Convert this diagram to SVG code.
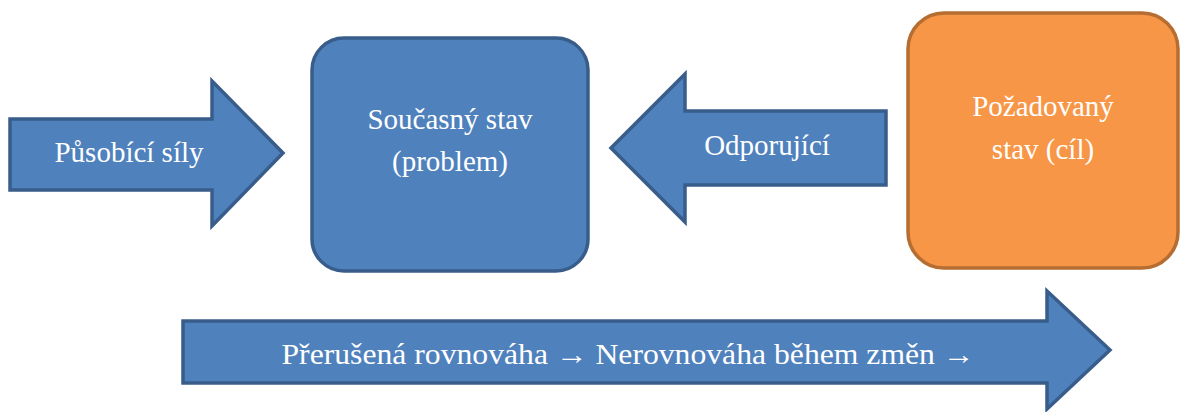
<svg xmlns="http://www.w3.org/2000/svg" width="1181" height="412" viewBox="0 0 1181 412">
<style>
.blue{fill:#4F81BD;stroke:#385D8A;stroke-width:3.5;stroke-linejoin:miter}
.orange{fill:#F79646;stroke:#B66D31;stroke-width:3.5}
.t{font-size:29px;fill:#FFFFFF;text-anchor:middle}
</style>
<rect width="1181" height="412" fill="#FFFFFF"/>
<g id="connectors" font-family="Liberation Serif, Times New Roman, DejaVu Serif, serif">
<g id="arrow-pusobici">
<polygon class="blue" points="10,119 212,119 212,81 283,153 212,226 212,190 10,190"/>
<text class="t" x="129" y="162">Působící síly</text>
</g>
<g id="arrow-odporujici">
<polygon class="blue" points="886,111 685,111 685,74 611,148 685,222 685,185 886,185"/>
<text class="t" x="767" y="155">Odporující</text>
</g>
<g id="arrow-bottom">
<polygon class="blue" points="183,321 1047,321 1047,291 1110,350 1047,409 1047,383 183,383"/>
<text class="t" x="628" y="364" textLength="693" lengthAdjust="spacingAndGlyphs">Přerušená rovnováha → Nerovnováha během změn →</text>
</g>
</g>
<g id="node-soucasny" font-family="Liberation Serif, Times New Roman, DejaVu Serif, serif">
<rect class="blue" x="312" y="38" width="276" height="233" rx="32" ry="32"/>
<text class="t" x="450" y="129">Současný stav</text>
<text class="t" x="450" y="171">(problem)</text>
</g>
<g id="node-pozadovany" font-family="Liberation Serif, Times New Roman, DejaVu Serif, serif">
<rect class="orange" x="908" y="13" width="270" height="255" rx="36" ry="36"/>
<text class="t" x="1043" y="116">Požadovaný</text>
<text class="t" x="1043" y="159">stav (cíl)</text>
</g>
</svg>
